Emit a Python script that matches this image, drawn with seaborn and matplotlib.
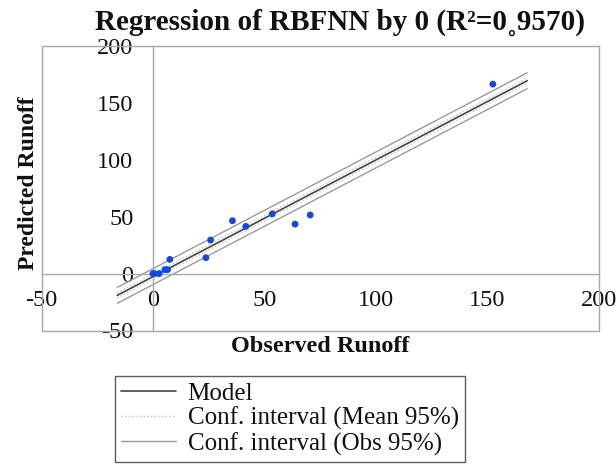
import numpy as np
import pandas as pd
import matplotlib
matplotlib.use("Agg")
import matplotlib.pyplot as plt
from matplotlib.lines import Line2D
import seaborn as sns

# ---- data ----
observed = [0.0, 0.7, 2.8, 5.4, 6.6, 7.6, 23.8, 25.9, 35.7, 41.7, 53.6, 63.8, 70.6, 152.6]
predicted = [0.0, 0.0, 0.0, 3.5, 3.5, 12.5, 14.0, 29.5, 46.5, 41.5, 52.5, 43.5, 51.5, 166.5]
line_x_range = [-16.0, 168.0]          # extent of model / interval lines
obs_ci_half = 7.0                      # half-width of observation 95% band
mean_ci_half = 2.3                     # half-width of mean 95% band
x_ticks = [-50, 0, 50, 100, 150, 200]
y_ticks = [-50, 0, 50, 100, 150, 200]
title_text = "Regression of RBFNN by 0 (R²=0˳9570)"
x_label = "Observed Runoff"
y_label = "Predicted Runoff"
legend_labels = ["Model", "Conf. interval (Mean 95%)", "Conf. interval (Obs 95%)"]

sns.set_style("white")
serif = ["Liberation Serif", "DejaVu Serif", "Noto Sans CJK SC"]
plt.rcParams["font.family"] = serif
plt.rcParams["axes.unicode_minus"] = False

fig = plt.figure(figsize=(6.16, 4.68), dpi=100)
W, H = 616, 468
ax = fig.add_axes([41.5 / W, 1 - 330.5 / H, (598.5 - 41.5) / W, (330.5 - 46) / H])

df = pd.DataFrame({"obs": observed, "pred": predicted})
slope, intercept = np.polyfit(df["obs"], df["pred"], 1)
lx = np.array(line_x_range)
ly = intercept + slope * lx

c_model = "#454545"
c_mean = "#c4c4c4"
c_obs = "#9a9a9a"
ax.plot(lx, ly, color=c_model, lw=1.2, zorder=3)
for s in (-1, 1):
    ax.plot(lx, ly + s * mean_ci_half, color=c_mean, lw=1.0, ls=":", zorder=2)
    ax.plot(lx, ly + s * obs_ci_half, color=c_obs, lw=1.0, zorder=2)

sns.scatterplot(data=df, x="obs", y="pred", ax=ax, color="#1448e6", s=24,
                edgecolor="none", zorder=4)

ax.set_xlim(-50, 200)
ax.set_ylim(-50, 200)
ax.set_xticks(x_ticks)
ax.set_yticks(y_ticks)

gray = "#a8a8a8"
for sp in ax.spines.values():
    sp.set_color(gray)
    sp.set_linewidth(1.0)
ax.spines["left"].set_position(("data", 0))
ax.spines["bottom"].set_position(("data", 0))
# outer frame on left and bottom
ax.plot([0, 0], [0, 1], transform=ax.transAxes, color=gray, lw=1.0, clip_on=False)
ax.plot([0, 1], [0, 0], transform=ax.transAxes, color=gray, lw=1.0, clip_on=False)

ax.tick_params(axis="both", direction="inout", length=10, width=1, color=gray,
               labelsize=17.5, labelcolor="#111111")
ax.tick_params(axis="x", pad=7)
ax.tick_params(axis="y", pad=9)

ax.set_xlabel(x_label, fontsize=17.5, fontweight="bold", color="#111111")
ax.set_ylabel(y_label, fontsize=17, fontweight="bold", color="#111111")
ax.xaxis.set_label_coords(0.5, -0.02)
ax.yaxis.set_label_coords(-0.005, 0.518)

fig.text(340 / W, 1 - 22 / H, title_text, ha="center", va="center",
         fontsize=21, fontweight="bold", color="#111111")

handles = [Line2D([], [], color=c_model, lw=1.2),
           Line2D([], [], color=c_mean, lw=1.0, ls=":"),
           Line2D([], [], color=c_obs, lw=1.0)]
leg = fig.legend(handles, legend_labels, loc="upper left",
                 bbox_to_anchor=(115 / W, 1 - 376 / H), borderaxespad=0,
                 fontsize=18, frameon=True, fancybox=False, edgecolor="#333333",
                 handlelength=2.2, handletextpad=0.45, labelspacing=0.08,
                 borderpad=0.25)
leg.get_frame().set_linewidth(1.0)
for t in leg.get_texts():
    t.set_color("#111111")

fig.savefig("out.png", dpi=100)
